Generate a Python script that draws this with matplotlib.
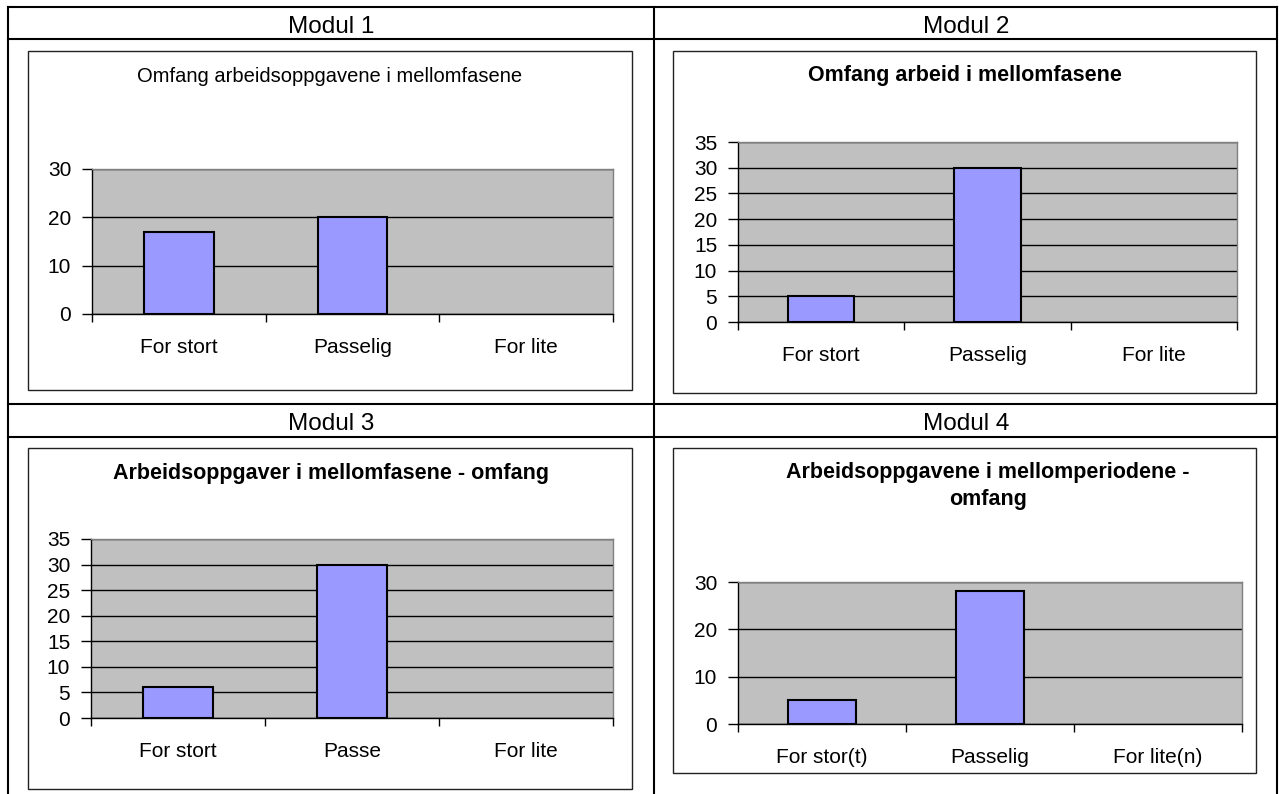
import numpy as np
import matplotlib.pyplot as plt
from matplotlib.patches import Rectangle
from matplotlib.lines import Line2D

plt.rcParams['font.family'] = ['Liberation Sans', 'DejaVu Sans']

# Bildestørrelse i piksler (dpi=100)
W, H = 1279, 794

# Data
modul_names = ['Modul 1', 'Modul 2', 'Modul 3', 'Modul 4']
chart_titles = ['Omfang arbeidsoppgavene i mellomfasene',
                'Omfang arbeid i mellomfasene',
                'Arbeidsoppgaver i mellomfasene - omfang',
                'Arbeidsoppgavene i mellomperiodene -\nomfang']
title_bold = [False, True, True, True]

categories_1 = ['For stort', 'Passelig', 'For lite']
categories_2 = ['For stort', 'Passelig', 'For lite']
categories_3 = ['For stort', 'Passe', 'For lite']
categories_4 = ['For stor(t)', 'Passelig', 'For lite(n)']

values_1 = [17, 20, 0]
values_2 = [5, 30, 0]
values_3 = [6, 30, 0]
values_4 = [5, 28, 0]

y_max = [30, 35, 35, 30]
y_step = [10, 5, 5, 10]

categories = [categories_1, categories_2, categories_3, categories_4]
values = [values_1, values_2, values_3, values_4]

# Plassering (piksler, y fra toppen)
header_pos = [(331, 33), (966, 33), (331, 430), (966, 430)]
chart_boxes = [(28, 51, 632, 390), (673, 51, 1256, 393),
               (28, 448, 632, 789), (673, 448, 1256, 773)]
plot_areas = [(92, 169, 613, 314), (738, 142, 1237, 322),
              (91, 539, 613, 718), (738, 582, 1242, 724)]
title_pos = [(330, 76), (965, 76), (331, 473), (988, 486)]


def fx(x):
    return x / W


def fy(y):
    return 1 - y / H


fig = plt.figure(figsize=(W / 100, H / 100), dpi=100)

# tabell-linjer
LW = 1.5
for x in [8, 654, 1277]:
    fig.add_artist(Line2D([fx(x), fx(x)], [fy(7), fy(794)], color='black', lw=LW))
for y in [7, 39, 404, 437]:
    fig.add_artist(Line2D([fx(8), fx(1277)], [fy(y), fy(y)], color='black', lw=LW))

for i in range(4):
    hx, hy = header_pos[i]
    fig.text(fx(hx), fy(hy), modul_names[i], ha='center', va='baseline', fontsize=17.5)

    x0, y0, x1, y1 = chart_boxes[i]
    fig.add_artist(Rectangle((fx(x0), fy(y1)), fx(x1) - fx(x0), fy(y0) - fy(y1),
                             transform=fig.transFigure, facecolor='white',
                             edgecolor='#222222', lw=1.0, zorder=-1))

    tx, ty = title_pos[i]
    fig.text(fx(tx), fy(ty), chart_titles[i], ha='center', va='center',
             fontsize=15.5 if title_bold[i] else 14.5,
             fontweight='bold' if title_bold[i] else 'normal', linespacing=1.35)

    px0, py0, px1, py1 = plot_areas[i]
    ax = fig.add_axes([fx(px0), fy(py1), fx(px1) - fx(px0), fy(py0) - fy(py1)])
    x = np.arange(len(categories[i]))
    # stolper med verdi 0 tegnes uten kant (som i Excel)
    lws = [1.5 if v > 0 else 0 for v in values[i]]
    ax.bar(x, values[i], width=0.4, color='#9999FF', edgecolor='black', linewidth=lws, zorder=3)
    ax.set_xlim(-0.5, 2.5)
    ax.set_ylim(0, y_max[i])
    ax.set_facecolor('#C0C0C0')
    ax.set_axisbelow(True)
    ax.yaxis.grid(True, color='black', lw=1)

    ax.set_yticks(np.arange(0, y_max[i] + 1, y_step[i]))
    ax.tick_params(axis='y', direction='out', length=7, width=1, pad=8, labelsize=15)
    ax.set_xticks(x)
    ax.set_xticklabels(categories[i])
    ax.set_xticks([-0.5, 0.5, 1.5, 2.5], minor=True)
    ax.tick_params(axis='x', which='major', length=0, pad=17, labelsize=15)
    ax.tick_params(axis='x', which='minor', direction='out', length=6, width=1)

    ax.spines['left'].set_color('black')
    ax.spines['bottom'].set_color('black')
    ax.spines['top'].set_color('#808080')
    ax.spines['right'].set_color('#808080')
    for s in ax.spines.values():
        s.set_linewidth(1.0)

fig.savefig('out.png', dpi=100)
